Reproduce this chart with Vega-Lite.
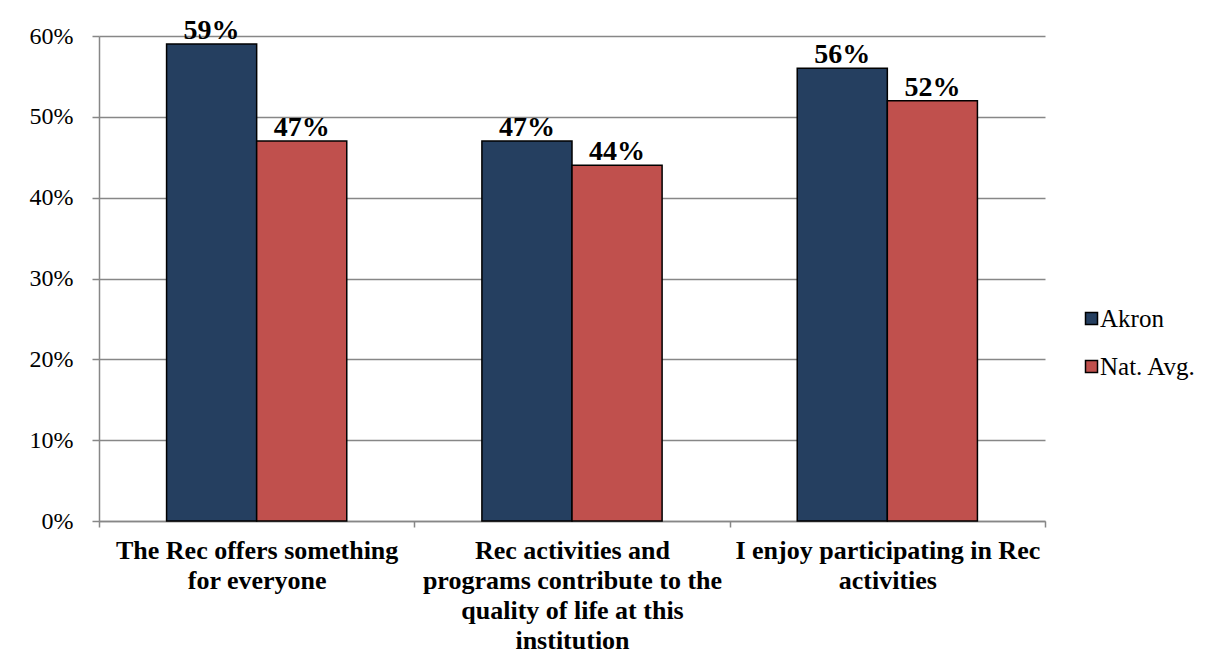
{
  "$schema": "https://vega.github.io/schema/vega-lite/v6.json",
  "autosize": {"type": "none"},
  "width": 946,
  "height": 485,
  "padding": {"left": 99, "top": 36, "right": 185, "bottom": 150},
  "background": "white",
  "data": {
    "values": [
      {"item": "The Rec offers something for everyone", "group": "Akron", "value": 0.59},
      {"item": "The Rec offers something for everyone", "group": "Nat. Avg.", "value": 0.47},
      {"item": "Rec activities and programs contribute to the quality of life at this institution", "group": "Akron", "value": 0.47},
      {"item": "Rec activities and programs contribute to the quality of life at this institution", "group": "Nat. Avg.", "value": 0.44},
      {"item": "I enjoy participating in Rec activities", "group": "Akron", "value": 0.56},
      {"item": "I enjoy participating in Rec activities", "group": "Nat. Avg.", "value": 0.52}
    ]
  },
  "encoding": {
    "x": {
      "field": "item",
      "type": "nominal",
      "sort": null,
      "scale": {"paddingInner": 0, "paddingOuter": 0},
      "axis": {
        "title": null,
        "labelAngle": 0,
        "tickBand": "extent",
        "ticks": true,
        "tickSize": 6,
        "tickColor": "#878787",
        "tickWidth": 1.5,
        "domainColor": "#878787",
        "domainWidth": 1.5,
        "grid": false,
        "labelFont": "Liberation Serif",
        "labelFontWeight": "bold",
        "labelFontSize": 26,
        "labelColor": "black",
        "labelLineHeight": 30,
        "labelPadding": 10,
        "labelLimit": 400,
        "labelExpr": "datum.value == 'The Rec offers something for everyone' ? ['The Rec offers something', 'for everyone'] : datum.value == 'I enjoy participating in Rec activities' ? ['I enjoy participating in Rec', 'activities'] : datum.value == 'Rec activities and programs contribute to the quality of life at this institution' ? ['Rec activities and', 'programs contribute to the', 'quality of life at this', 'institution'] : ''"
      }
    },
    "xOffset": {
      "field": "group",
      "type": "nominal",
      "scale": {"paddingInner": 0, "paddingOuter": 0.75}
    },
    "y": {
      "field": "value",
      "type": "quantitative",
      "scale": {"domain": [0, 0.6]},
      "axis": {
        "title": null,
        "format": ".0%",
        "values": [0, 0.1, 0.2, 0.3, 0.4, 0.5, 0.6],
        "grid": true,
        "gridColor": "#878787",
        "gridWidth": 1.5,
        "tickColor": "#878787",
        "tickWidth": 1.5,
        "tickSize": 7,
        "domainColor": "#878787",
        "domainWidth": 1.5,
        "labelFont": "Liberation Serif",
        "labelFontSize": 24,
        "labelColor": "black",
        "labelPadding": 19
      }
    }
  },
  "layer": [
    {
      "mark": {"type": "bar", "stroke": "black", "strokeWidth": 1.5},
      "encoding": {
        "color": {
          "field": "group",
          "type": "nominal",
          "scale": {"domain": ["Akron", "Nat. Avg."], "range": ["#253F60", "#C0504D"]},
          "legend": {
            "title": null,
            "orient": "none",
            "legendX": 980,
            "legendY": 270,
            "padding": 0,
            "symbolType": "square",
            "symbolSize": 144,
            "symbolStrokeColor": "black",
            "symbolStrokeWidth": 1.5,
            "labelFont": "Liberation Serif",
            "labelFontSize": 25,
            "labelColor": "black",
            "labelOffset": -4,
            "rowPadding": 22
          }
        }
      }
    },
    {
      "mark": {
        "type": "text",
        "baseline": "alphabetic",
        "dy": -5,
        "font": "Liberation Serif",
        "fontWeight": "bold",
        "fontSize": 28,
        "color": "black"
      },
      "encoding": {
        "text": {"field": "value", "type": "quantitative", "format": ".0%"}
      }
    }
  ],
  "config": {
    "view": {"stroke": null}
  }
}
